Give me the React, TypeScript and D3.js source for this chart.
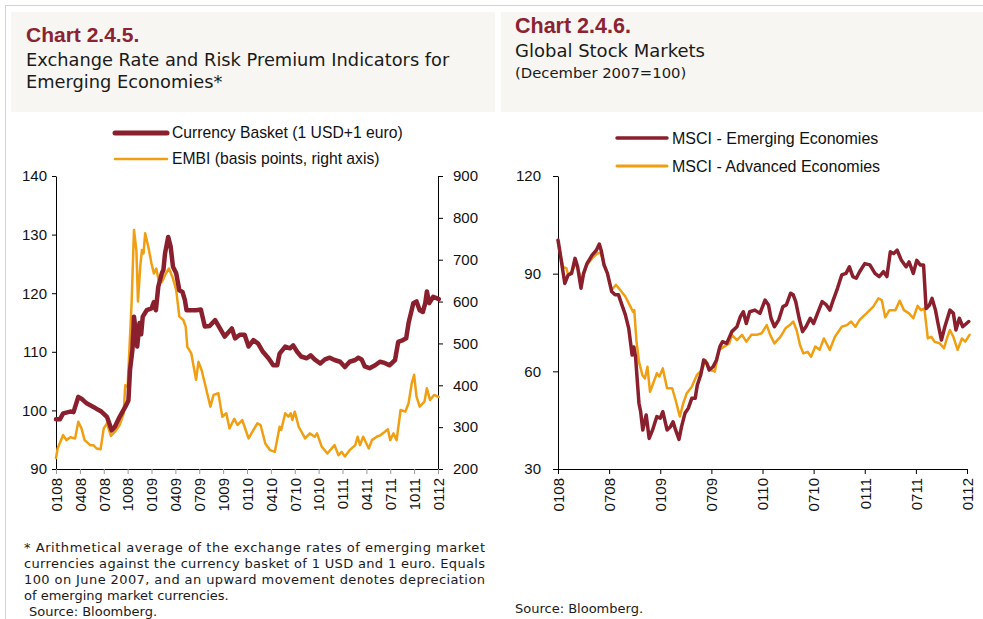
import * as d3 from 'd3'
import { useRef, useEffect } from 'react'

// tick labels (MMYY)
const leftTickLabels = ['0108', '0408', '0708', '1008', '0109', '0409', '0709', '1009', '0110', '0410', '0710', '1010', '0111', '0411', '0711', '1011', '0112']
const rightTickLabels = ['0108', '0708', '0109', '0709', '0110', '0710', '0111', '0711', '0112']

// [months since Jan 2008, value]
const currencyBasket: [number, number][] = [
  [0, 98.5], [0.5, 98.5], [0.9, 99.5], [1.8, 99.8], [2.2, 99.7], [2.8, 102.3], [3.2, 102], [3.85, 101.2], [4.7, 100.6],
  [5.3, 100.1], [5.7, 99.8], [6.4, 98.9], [7, 96.6], [7.4, 97.2], [8, 98.9], [8.7, 100.6], [9.1, 101.7], [9.3, 106.9],
  [9.6, 110.3], [9.8, 116], [10, 113.7], [10.2, 110.9], [10.5, 114.9], [10.7, 113], [10.9, 116], [11.4, 117.1], [12, 117.4],
  [12.3, 118.5], [12.55, 117.1], [12.85, 121.1], [13.3, 123.4], [13.5, 124], [13.7, 126.8], [14.1, 129.6], [14.4, 128],
  [14.7, 124.5], [15.1, 123.4], [15.5, 120.5], [15.9, 120.2], [16.2, 118.8], [16.4, 117.1], [17, 117.1], [17.6, 117.1],
  [18.2, 117.2], [18.7, 114.3], [19.3, 114.4], [20, 115.4], [20.6, 114], [21.2, 112.6], [22.1, 114], [22.5, 112.3],
  [23.1, 112.9], [23.7, 112.9], [24.2, 110.9], [24.8, 112], [25.4, 111.4], [26, 110], [26.7, 108.9], [27.3, 107.7],
  [27.8, 107.7], [28.1, 109.7], [28.8, 110.9], [29.4, 110.6], [29.8, 111.1], [30.3, 110], [30.8, 109.2], [31.5, 108.9],
  [32, 109.4], [32.5, 108.7], [33.2, 108], [33.8, 108.7], [34.4, 109], [35, 108.6], [35.7, 108.3], [36.3, 107.4],
  [36.9, 108.3], [37.6, 108.6], [38, 109], [38.4, 108.7], [38.8, 107.5], [39.4, 107.2], [40.1, 107.7], [40.7, 108.3],
  [41.3, 108.1], [41.9, 107.7], [42.6, 108.6], [43, 111.7], [43.6, 112], [44, 112.3], [44.3, 114.9], [44.9, 118.3],
  [45.3, 118.6], [45.7, 117.1], [46.1, 116.8], [46.4, 118.3], [46.6, 120.3], [46.9, 118.3], [47.4, 119.4], [48.1, 119]
]

const embi: [number, number][] = [
  [0, 226], [0.2, 249], [0.9, 281], [1.3, 269], [1.8, 276], [2.4, 273], [2.8, 313], [3.2, 297], [3.6, 269], [4.3, 257],
  [4.7, 257], [5.1, 249], [5.6, 247], [6, 297], [6.4, 309], [6.9, 279], [7.4, 289], [8, 305], [8.5, 333], [8.7, 400],
  [9, 396], [9.2, 476], [9.5, 596], [9.8, 771], [10.1, 723], [10.3, 600], [10.6, 687], [10.8, 723], [11, 715], [11.2, 763],
  [11.6, 731], [12, 691], [12.3, 667], [12.6, 679], [12.9, 651], [13.3, 647], [13.8, 667], [14.2, 679], [14.7, 655],
  [15.1, 628], [15.5, 564], [16, 556], [16.3, 540], [16.5, 492], [17, 476], [17.6, 413], [17.9, 456], [18.3, 436],
  [18.8, 397], [19.4, 349], [19.8, 377], [20.4, 381], [20.9, 325], [21.4, 333], [21.8, 297], [22.4, 320], [22.8, 305],
  [23.4, 317], [24.2, 273], [24.8, 293], [25.3, 309], [25.7, 305], [26.3, 261], [26.9, 245], [27.5, 241], [28.1, 301],
  [28.3, 293], [28.8, 333], [29.2, 325], [29.5, 333], [29.7, 317], [30, 337], [30.5, 301], [31.3, 273], [31.9, 285],
  [32.5, 277], [32.8, 285], [33.4, 253], [34.1, 237], [35, 257], [35.5, 233], [35.9, 241], [36.3, 230], [36.9, 245],
  [37.6, 257], [37.9, 277], [38.2, 257], [38.6, 277], [39.3, 249], [39.7, 269], [40.3, 277], [40.8, 281], [41.2, 287],
  [41.7, 295], [42, 269], [42.4, 285], [42.8, 269], [43.3, 341], [43.9, 337], [44.3, 357], [44.7, 405], [45, 425],
  [45.3, 373], [45.7, 349], [46.3, 361], [46.6, 393], [47, 365], [47.5, 377], [48.1, 372]
]

const msciEmerging: [number, number][] = [
  [0, 100.3], [0.1, 98.8], [0.8, 87], [1.2, 89.6], [1.6, 90.1], [2, 94.7], [2.3, 92.1], [2.7, 85.5], [3, 90.1], [3.4, 93.1],
  [4, 95.7], [4.5, 97.2], [4.85, 99.1], [5.1, 96.8], [5.4, 92.7], [5.8, 90.1], [6.3, 84.5], [6.7, 83.5], [7.1, 83.5],
  [7.5, 80.4], [7.9, 77.4], [8.3, 73.2], [8.7, 65], [8.9, 67.5], [9.1, 64.5], [9.3, 57.3], [9.5, 50.2], [9.7, 47.6],
  [9.95, 42], [10.35, 46.6], [10.7, 39.4], [11.1, 42], [11.6, 46.1], [12, 45.6], [12.3, 47.6], [12.8, 42], [13.2, 43],
  [13.5, 44.5], [13.8, 42], [14.2, 39.1], [14.5, 43], [14.9, 47.1], [15.3, 48.7], [15.7, 51.7], [16.1, 51.7], [16.35, 55.8],
  [16.75, 58.9], [17.1, 63.5], [17.45, 62.5], [17.75, 60.4], [18.2, 61.4], [18.6, 63.5], [19, 67.6], [19.3, 69.1],
  [19.8, 68.6], [20.4, 72.2], [21, 73.7], [21.4, 76.8], [21.75, 78.3], [22.1, 74.7], [22.5, 78.3], [23.1, 78.8],
  [23.7, 77.8], [24.3, 81.9], [24.7, 80.4], [25, 76.3], [25.4, 73.7], [25.9, 75.8], [26.4, 79.9], [26.8, 80.4], [27.3, 84],
  [27.6, 83.5], [27.9, 81.4], [28.3, 76.3], [28.7, 72.2], [29.1, 73.7], [29.6, 76.3], [30, 74.7], [30.4, 77.4], [31, 81.4],
  [31.5, 80.4], [31.9, 78.8], [32.3, 81.9], [32.8, 85.5], [33.3, 89.6], [33.8, 90.1], [34.2, 92.1], [34.6, 89.1],
  [35, 88.6], [35.4, 90.6], [36, 93.1], [36.6, 92.7], [37.2, 90.1], [37.7, 89.1], [38.2, 90.6], [38.6, 89.1], [39, 96.7],
  [39.4, 96.2], [39.8, 97.2], [40.3, 94.1], [40.85, 92.1], [41.2, 93.6], [41.7, 90.1], [42.1, 94.1], [42.5, 92.7],
  [42.9, 92.7], [43.2, 79.3], [43.6, 80.4], [43.9, 82.4], [44.3, 78.8], [44.6, 74.7], [45, 69.6], [45.4, 73.7], [46, 78.8],
  [46.4, 77.8], [46.7, 72.7], [47.1, 76.3], [47.5, 73.7], [48.2, 75.3]
]

const msciAdvanced: [number, number][] = [
  [0, 99.3], [0.6, 92.1], [1, 91.6], [1.2, 89.6], [1.6, 90.6], [2.1, 93.1], [2.8, 88], [3.4, 92.7], [4, 94.7], [4.6, 96.2],
  [5, 96.4], [5.4, 93.1], [5.8, 90.1], [6.3, 85], [6.8, 86.6], [7.3, 85], [7.9, 83], [8.4, 80.4], [8.8, 78.3], [8.95, 78.8],
  [9.2, 69.6], [9.5, 63], [9.9, 58.9], [10.2, 57.8], [10.5, 61.4], [10.8, 53.7], [11.1, 55.8], [11.6, 59.4], [11.9, 58.4],
  [12.3, 60.9], [12.8, 54.8], [13.4, 54.8], [13.8, 51.2], [14.3, 46.1], [14.7, 50.2], [15.1, 53.2], [15.7, 55.3],
  [16.3, 58.9], [16.9, 60.4], [17.3, 63.5], [17.9, 60.4], [18.4, 59.9], [18.9, 66.6], [19.5, 67.6], [20.1, 68.6],
  [20.4, 71.2], [21, 69.6], [21.6, 71.2], [22.1, 69.1], [22.7, 71.2], [23.3, 71.2], [23.9, 71.7], [24.5, 74.2],
  [24.9, 71.2], [25.4, 68.6], [26.1, 70.6], [26.7, 73.2], [27.2, 74.2], [27.6, 75.3], [28, 72.7], [28.4, 68.1],
  [28.8, 65.5], [29.3, 66], [29.7, 64.5], [30.2, 67.6], [30.7, 66.6], [31.2, 70.1], [31.9, 66.6], [32.5, 70.6],
  [33.3, 73.7], [33.9, 74.2], [34.4, 75.3], [34.9, 73.7], [35.4, 75.8], [36.2, 77.8], [37, 79.9], [37.6, 82.4],
  [38, 81.9], [38.4, 76.6], [38.9, 78.8], [39.6, 78.8], [40.1, 81.7], [40.6, 78.8], [41.2, 77.8], [41.7, 76.3],
  [42.2, 80.1], [42.6, 78.8], [43, 79.3], [43.4, 70.1], [43.8, 70.6], [44.2, 69.1], [44.8, 68.6], [45.3, 67.1],
  [45.7, 70.6], [46, 72.7], [46.4, 70.6], [46.9, 66.6], [47.4, 70.1], [47.8, 69.1], [48.3, 71.2]
]

const footnote = [
  '* Arithmetical average of the exchange rates of emerging market',
  'currencies against the currency basket of 1 USD and 1 euro. Equals',
  '100 on June 2007, and an upward movement denotes depreciation',
  'of emerging market currencies.'
]

const RED = '#8a1f2d'
const ORANGE = '#f09e12'
const TITLE_RED = '#8b2332'
const GOTHIC = '"DejaVu Sans", sans-serif'
const ARIAL = '"Liberation Sans", Arial, sans-serif'

export default function App() {
  const svgRef = useRef(null)
  const svgWidth = 983
  const svgHeight = 619

  useEffect((): void => {
    const SVG = d3.select(svgRef.current)
    SVG.selectAll('*').remove()

    // frame + header panels
    SVG.append('line').attr('x1', 5).attr('x2', svgWidth).attr('y1', 5.5).attr('y2', 5.5).attr('stroke', '#d8d0c4')
    SVG.append('line').attr('x1', 5.5).attr('x2', 5.5).attr('y1', 5).attr('y2', svgHeight).attr('stroke', '#d8d0c4')
    SVG.append('rect').attr('x', 11).attr('y', 12).attr('width', 484).attr('height', 100).attr('fill', '#f7f6f2')
    SVG.append('rect').attr('x', 501).attr('y', 12).attr('width', 482).attr('height', 100).attr('fill', '#f7f6f2')

    const txt = (x: number, y: number, s: string, size: number, family: string, fill = '#1a1a1a', weight = 'normal') =>
      SVG.append('text').attr('x', x).attr('y', y).text(s)
        .attr('font-size', size).attr('font-family', family).attr('fill', fill).attr('font-weight', weight)

    txt(26, 42, 'Chart 2.4.5.', 21, ARIAL, TITLE_RED, 'bold')
    txt(26, 66, 'Exchange Rate and Risk Premium Indicators for', 17.8, GOTHIC)
    txt(26, 87.5, 'Emerging Economies*', 17.8, GOTHIC)
    txt(515, 33, 'Chart 2.4.6.', 21.5, ARIAL, TITLE_RED, 'bold')
    txt(515, 57, 'Global Stock Markets', 18, GOTHIC)
    txt(515, 77.5, '(December 2007=100)', 14.8, GOTHIC)

    // footnotes
    footnote.forEach((s, i) => {
      const t = txt(24, 552 + i * 16, s, 13, GOTHIC)
      if (i < 3) t.attr('textLength', 461).attr('lengthAdjust', 'spacing')
    })
    txt(29, 616, 'Source: Bloomberg.', 13, GOTHIC)
    txt(515, 613, 'Source: Bloomberg.', 13, GOTHIC)

    const styleAxis = (g: any) => {
      g.attr('font-size', 15).attr('font-family', ARIAL).attr('color', '#000')
      g.selectAll('text').attr('fill', '#111')
    }
    const drawLine = (data: [number, number][], x: any, y: any, color: string, width: number) => {
      const line = d3.line<[number, number]>().x(d => x(d[0])).y(d => y(d[1]))
      SVG.append('path').datum(data).attr('d', line).attr('fill', 'none')
        .attr('stroke', color).attr('stroke-width', width).attr('stroke-linejoin', 'round').attr('stroke-linecap', 'round')
    }
    const legendItem = (x1: number, x2: number, y: number, color: string, width: number, label: string, size: number) => {
      SVG.append('line').attr('x1', x1).attr('x2', x2).attr('y1', y).attr('y2', y)
        .attr('stroke', color).attr('stroke-width', width).attr('stroke-linecap', 'round')
      txt(x2 + 5, y, label, size, ARIAL, '#111').attr('dy', '0.35em')
    }

    // ---------- left chart ----------
    const xL = d3.scaleLinear().domain([0, 48]).range([56, 438])
    const yL = d3.scaleLinear().domain([90, 140]).range([469, 176])
    const yR = d3.scaleLinear().domain([200, 900]).range([469, 176])

    SVG.append('g').attr('transform', 'translate(56,0)')
      .call(d3.axisLeft(yL).tickValues(d3.range(90, 141, 10)).tickSize(4).tickSizeOuter(0).tickPadding(5))
      .call(styleAxis)
    SVG.append('g').attr('transform', 'translate(438,0)')
      .call(d3.axisRight(yR).tickValues(d3.range(200, 901, 100)).tickSize(5).tickSizeOuter(0).tickPadding(10))
      .call(styleAxis)
    const xAxisL = SVG.append('g').attr('transform', 'translate(0,469)')
      .call(d3.axisBottom(xL).tickValues(d3.range(0, 49, 3)).tickFormat((d, i) => leftTickLabels[i]).tickSize(5).tickSizeOuter(0))
      .call(styleAxis)
    xAxisL.selectAll('.tick line').attr('stroke', '#999')
    xAxisL.selectAll('text').attr('transform', 'rotate(-90)').attr('x', -9).attr('y', 0).attr('dy', '0.35em').attr('text-anchor', 'end')

    drawLine(embi, xL, yR, ORANGE, 2.5)
    drawLine(currencyBasket, xL, yL, RED, 4.5)

    legendItem(115, 167, 133, RED, 5, 'Currency Basket (1 USD+1 euro)', 15.7)
    legendItem(115, 167, 159, ORANGE, 2.5, 'EMBI (basis points, right axis)', 15.7)

    // ---------- right chart ----------
    const xR = d3.scaleLinear().domain([0, 48]).range([558, 967])
    const yS = d3.scaleLinear().domain([30, 120]).range([469, 176])

    SVG.append('g').attr('transform', 'translate(558,0)')
      .call(d3.axisLeft(yS).tickValues([30, 60, 90, 120]).tickSize(5).tickSizeOuter(0).tickPadding(12))
      .call(styleAxis)
    const xAxisR = SVG.append('g').attr('transform', 'translate(0,469)')
      .call(d3.axisBottom(xR).tickValues(d3.range(0, 49, 6)).tickFormat((d, i) => rightTickLabels[i]).tickSize(5).tickSizeOuter(0))
      .call(styleAxis)
    xAxisR.selectAll('text').attr('transform', 'rotate(-90)').attr('x', -9).attr('y', 0).attr('dy', '0.35em').attr('text-anchor', 'end')

    drawLine(msciAdvanced, xR, yS, ORANGE, 2.5)
    drawLine(msciEmerging, xR, yS, RED, 3.5)

    legendItem(617, 667, 138, RED, 3.5, 'MSCI - Emerging Economies', 16)
    legendItem(617, 667, 166, ORANGE, 3, 'MSCI - Advanced Economies', 16)
  }, [])

  return (
    <svg ref={svgRef} width={svgWidth} height={svgHeight}
      style={{ position: 'absolute', left: 0, top: 0, background: '#fff' }} />
  )
}
